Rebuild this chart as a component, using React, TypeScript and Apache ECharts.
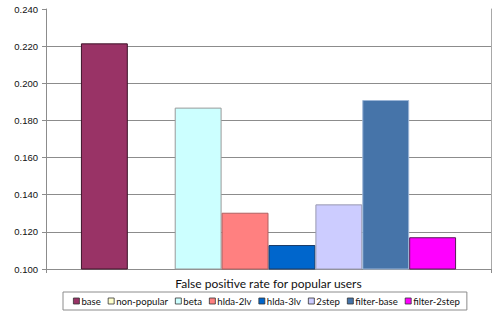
import React, { useEffect, useRef } from "react";
import * as echarts from "echarts";

const categories = ["False positive rate for popular users"];
const seriesNames = ["base", "non-popular", "beta", "hlda-2lv", "hlda-3lv", "2step", "filter-base", "filter-2step"];
const seriesValues = [0.2215, 0.1, 0.1869, 0.1303, 0.1129, 0.1348, 0.191, 0.1171];
const seriesColors = ["#993366", "#FFFFCC", "#CCFFFF", "#FF8080", "#0066CC", "#CCCCFF", "#4674A9", "#FF00FF"];
const seriesBorders = ["#3d1429", "#8a8a6a", "#9a9a9a", "#b06060", "#1a3a66", "#9a9ab0", "#9bb5d6", "#5a1a5a"];
const yTicks = { min: 0.1, max: 0.24, interval: 0.02 };

export default function App() {
  const ref = useRef<HTMLDivElement>(null);
  useEffect(() => {
    const chart = echarts.init(ref.current!, undefined, { renderer: "svg" });
    const splitColors = ["#8c8c8c", "#8c8c8c", "#8c8c8c", "#8c8c8c", "#8c8c8c", "#8c8c8c", "#8c8c8c", "rgba(0,0,0,0)"];
    chart.setOption({
      animation: false,
      backgroundColor: "#ffffff",
      grid: { left: 46, right: 1, top: 9, bottom: 49, containLabel: false },
      legend: {
        left: 63,
        top: 292,
        width: 440,
        itemWidth: 6,
        itemHeight: 6,
        itemGap: 7,
        padding: [4, 7, 4, 10],
        borderColor: "#8c8c8c",
        borderWidth: 1,
        icon: "rect",
        textStyle: { fontFamily: "Lato", fontSize: 9.6, color: "#111", padding: [0, 0, 0, -3] },
        data: seriesNames.map((n, i) => ({
          name: n,
          itemStyle: { color: seriesColors[i], borderColor: "#333", borderWidth: 0.8 },
        })),
      },
      xAxis: {
        type: "category",
        data: categories,
        axisLine: { lineStyle: { color: "#8c8c8c" } },
        axisTick: { show: true, length: 4, lineStyle: { color: "#8c8c8c" } },
        axisLabel: { fontFamily: "Lato", fontSize: 12, color: "#111", margin: 8 },
      },
      yAxis: [
        {
          type: "value",
          min: yTicks.min,
          max: yTicks.max,
          interval: yTicks.interval,
          axisLine: { show: true, lineStyle: { color: "#8c8c8c" } },
          axisTick: { show: true, length: 4, inside: false, lineStyle: { color: "#8c8c8c" } },
          axisLabel: {
            fontFamily: "Liberation Sans",
            fontSize: 9.5,
            color: "#111",
            margin: 8,
            formatter: (v: number) => v.toFixed(3),
          },
          splitLine: { show: true, lineStyle: { color: splitColors, width: 1 } },
        },
        {
          type: "value",
          position: "right",
          min: yTicks.min,
          max: yTicks.max,
          interval: yTicks.interval,
          axisLine: { show: true, lineStyle: { color: "#a8a8a8" } },
          axisTick: { show: false },
          axisLabel: { show: false },
          splitLine: { show: false },
        },
      ],
      series: seriesNames.map((n, i) => ({
        name: n,
        type: "bar",
        data: [seriesValues[i]],
        barGap: "0%",
        barCategoryGap: "15.7%",
        itemStyle: { color: seriesColors[i], borderColor: seriesBorders[i], borderWidth: 1 },
      })),
    });
    return () => chart.dispose();
  }, []);
  return <div ref={ref} style={{ width: 492, height: 318, position: "absolute", left: 0, top: 0 }} />;
}
